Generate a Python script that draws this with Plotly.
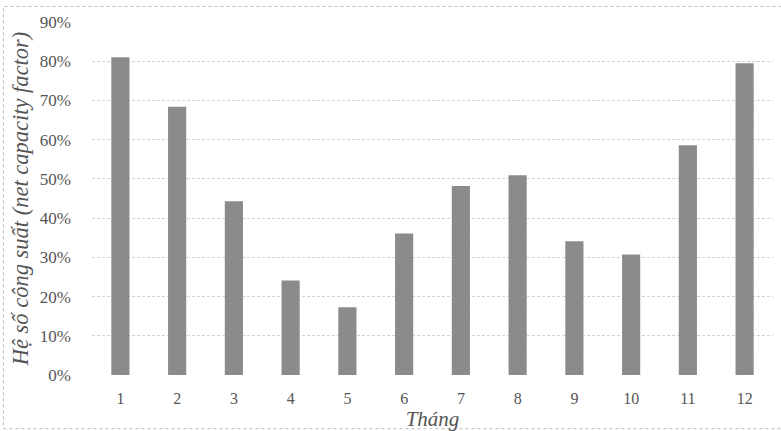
import plotly.graph_objects as go

months = ["1", "2", "3", "4", "5", "6", "7", "8", "9", "10", "11", "12"]
capacity_factor = [0.810, 0.684, 0.443, 0.241, 0.173, 0.361, 0.482, 0.509, 0.341, 0.307, 0.586, 0.795]
y_ticks = [0, 0.1, 0.2, 0.3, 0.4, 0.5, 0.6, 0.7, 0.8, 0.9]
y_tick_labels = ["0%", "10%", "20%", "30%", "40%", "50%", "60%", "70%", "80%", "90%"]

serif = "Liberation Serif"

fig = go.Figure()
fig.add_trace(go.Bar(
    x=months,
    y=capacity_factor,
    marker=dict(
        color="#8c8c8c",
        line=dict(width=0),
        pattern=dict(shape="\\", fgcolor="#7a7a7a", bgcolor="#8e8e8e", size=3, solidity=0.35),
    ),
    width=0.32,
    showlegend=False,
))

fig.update_layout(
    width=781,
    height=431,
    margin=dict(l=92, r=8, t=22, b=56),
    paper_bgcolor="white",
    plot_bgcolor="white",
    font=dict(family=serif, color="#555555", size=16),
    xaxis=dict(
        type="category",
        showgrid=False,
        showline=False,
        ticks="",
        ticklabelstandoff=12,
        tickfont=dict(family=serif, size=16, color="#555555"),
        title=dict(text="<i>Tháng</i>", font=dict(family=serif, size=21, color="#555555"), standoff=0),
    ),
    yaxis=dict(
        range=[0, 0.9],
        tickvals=y_ticks,
        ticktext=y_tick_labels,
        showgrid=True,
        gridcolor="#d2d2d2",
        griddash="3px,2px",
        gridwidth=1,
        zeroline=False,
        showline=False,
        ticks="",
        ticklabelstandoff=20,
        tickfont=dict(family=serif, size=17, color="#555555"),
        title=dict(text="<i>Hệ số công suất (net capacity factor)</i>", font=dict(family=serif, size=22.5, color="#555555"), standoff=4),
    ),
    shapes=[
        dict(type="rect", xref="paper", yref="paper",
             x0=-0.130, x1=1.03, y0=-0.152, y1=1.044,
             line=dict(color="#bbbbbb", width=1, dash="dot"), layer="below"),
    ],
)

fig.write_html("out.html", config={"displayModeBar": False},
               post_script="document.body.style.margin='0';")
